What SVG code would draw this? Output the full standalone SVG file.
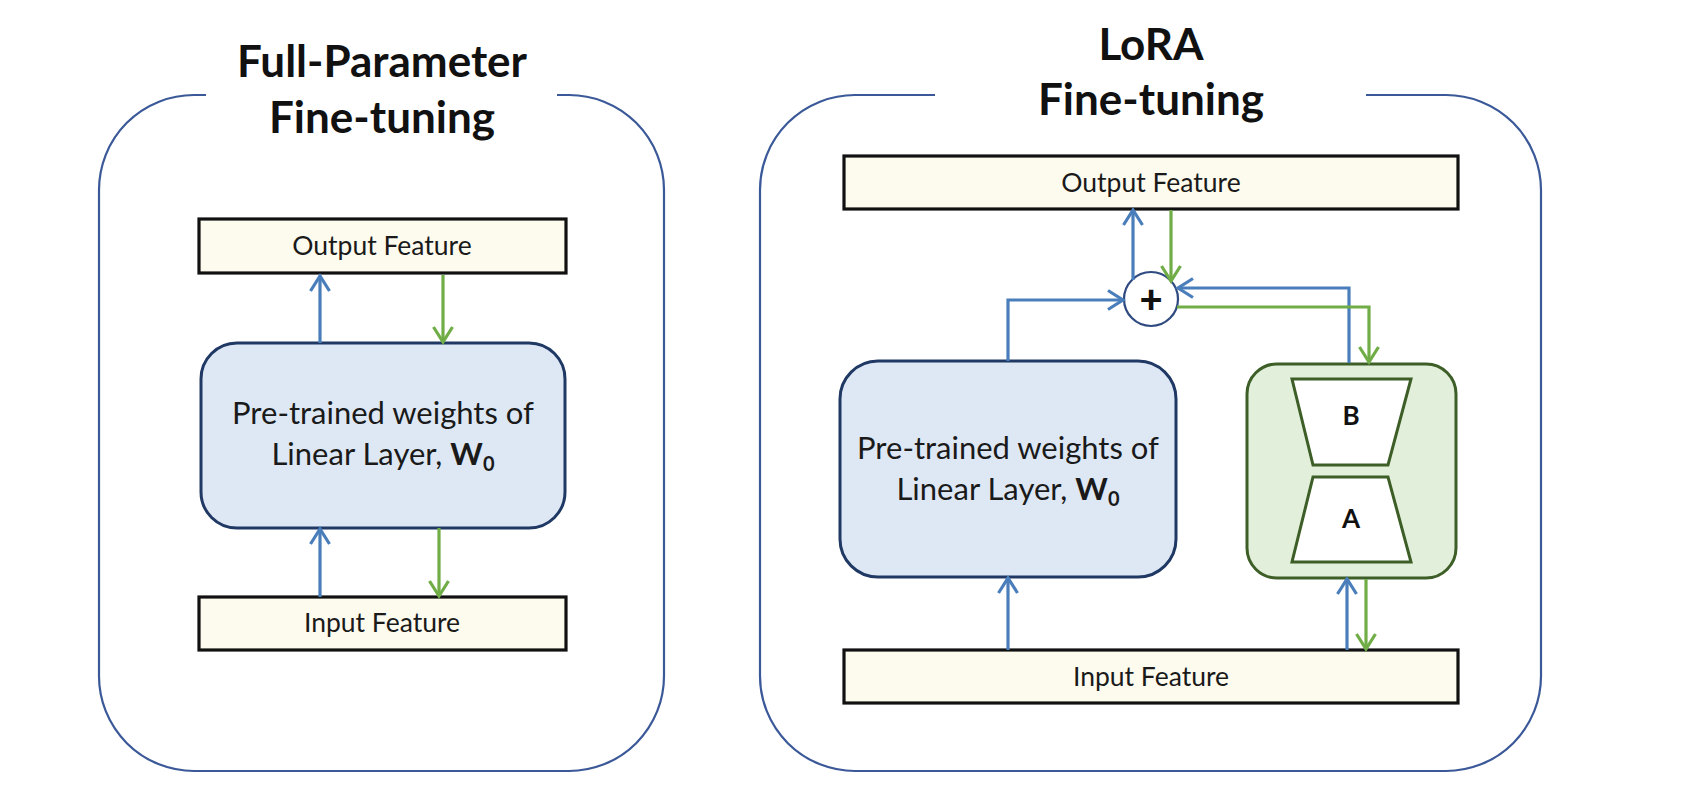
<svg xmlns="http://www.w3.org/2000/svg" width="1704" height="808" viewBox="0 0 1704 808">
  <style>
    .panel { fill: none; stroke: #3b5998; stroke-width: 2.2; }
    .title { font-family: Lato, "Liberation Sans", sans-serif; font-weight: bold; font-size: 44px; fill: #111; text-anchor: middle; }
    .feat { fill: #fdfbee; stroke: #111; stroke-width: 3.2; }
    .featText { font-family: Lato, "Liberation Sans", sans-serif; font-size: 26.5px; fill: #1a1a1a; text-anchor: middle; }
    .linear { fill: #dee8f5; stroke: #1f3864; stroke-width: 3; }
    .body { font-family: Lato, "Liberation Sans", sans-serif; font-size: 31px; fill: #1a1a1a; text-anchor: middle; }
    .lora { fill: #e2efda; stroke: #3d5e27; stroke-width: 3; }
    .trap { fill: #fff; stroke: #3d5e27; stroke-width: 3; stroke-linejoin: miter; }
    .bold { font-family: Lato, "Liberation Sans", sans-serif; font-weight: bold; font-size: 26px; fill: #111; text-anchor: middle; }
    .plus { font-family: Lato, "Liberation Sans", sans-serif; font-weight: 900; font-size: 40px; fill: #111; text-anchor: middle; }
    .plusC { fill: #fff; stroke: #2f4a80; stroke-width: 2.2; }
    .blue { fill: none; stroke: #4a7ebb; stroke-width: 3.2; marker-end: url(#ab); }
    .green { fill: none; stroke: #70ad47; stroke-width: 3.2; marker-end: url(#ag); }
  </style>
  <defs>
    <marker id="ab" markerUnits="userSpaceOnUse" markerWidth="34" markerHeight="34" viewBox="-22 -17 34 34" refX="0" refY="0" orient="auto">
      <path d="M-15,-9.5 L0,0 L-15,9.5" fill="none" stroke="#4a7ebb" stroke-width="3.2"/>
    </marker>
    <marker id="ag" markerUnits="userSpaceOnUse" markerWidth="34" markerHeight="34" viewBox="-22 -17 34 34" refX="0" refY="0" orient="auto">
      <path d="M-15,-9.5 L0,0 L-15,9.5" fill="none" stroke="#70ad47" stroke-width="3.2"/>
    </marker>
  </defs>
  <rect width="1704" height="808" fill="#fff"/>

  <g id="panel-full">
    <path class="panel" d="M557,95 H569 A95,95 0 0 1 664,190 V676 A95,95 0 0 1 569,771 H194 A95,95 0 0 1 99,676 V190 A95,95 0 0 1 194,95 H206"/>
    <text class="title" x="382" y="77">Full-Parameter</text>
    <text class="title" x="382" y="133">Fine-tuning</text>
  </g>

  <g id="panel-lora">
    <path class="panel" d="M1366,95 H1446 A95,95 0 0 1 1541,190 V676 A95,95 0 0 1 1446,771 H855 A95,95 0 0 1 760,676 V190 A95,95 0 0 1 855,95 H935"/>
    <text class="title" x="1151" y="60">LoRA</text>
    <text class="title" x="1151" y="115">Fine-tuning</text>
  </g>

  <g id="full-output">
    <rect class="feat" x="199" y="219" width="367" height="54"/>
    <text class="featText" x="382" y="255">Output Feature</text>
  </g>
  <g id="full-linear">
    <rect class="linear" x="201" y="343" width="364" height="185" rx="36" ry="36"/>
    <text class="body" x="383" y="424">Pre-trained weights of</text>
    <text class="body" x="383" y="465">Linear Layer, <tspan font-weight="bold">W</tspan><tspan font-weight="bold" font-size="20" dy="6">0</tspan></text>
  </g>
  <g id="full-input">
    <rect class="feat" x="199" y="597" width="367" height="53"/>
    <text class="featText" x="382" y="632">Input Feature</text>
  </g>

  <g id="lora-output">
    <rect class="feat" x="844" y="156" width="614" height="53"/>
    <text class="featText" x="1151" y="192">Output Feature</text>
  </g>
  <g id="lora-plus">
    <circle class="plusC" cx="1151" cy="299" r="27"/>
    <text class="plus" x="1151" y="313">+</text>
  </g>
  <g id="lora-linear">
    <rect class="linear" x="840" y="361" width="336" height="216" rx="38" ry="38"/>
    <text class="body" x="1008" y="459">Pre-trained weights of</text>
    <text class="body" x="1008" y="500">Linear Layer, <tspan font-weight="bold">W</tspan><tspan font-weight="bold" font-size="20" dy="6">0</tspan></text>
  </g>
  <g id="lora-adapter">
    <rect class="lora" x="1247" y="364" width="209" height="214" rx="30" ry="30"/>
    <polygon class="trap" points="1292,379 1411,379 1388,465 1313,465"/>
    <text class="bold" x="1351" y="425">B</text>
    <polygon class="trap" points="1313,477 1388,477 1411,562 1292,562"/>
    <text class="bold" x="1351" y="528">A</text>
  </g>
  <g id="lora-input">
    <rect class="feat" x="844" y="650" width="614" height="53"/>
    <text class="featText" x="1151" y="686">Input Feature</text>
  </g>

  <g id="connectors">
    <path class="blue" d="M320,343 V276"/>
    <path class="green" d="M443,275 V342"/>
    <path class="blue" d="M320,597 V529"/>
    <path class="green" d="M439,528 V596"/>

    <path class="blue" d="M1133,280 V210"/>
    <path class="green" d="M1171,210 V281"/>
    <path class="blue" d="M1008,361 V300 H1123"/>
    <path class="blue" d="M1349,363 V288 H1178"/>
    <path class="green" d="M1177,307 H1369 V362"/>
    <path class="blue" d="M1008,650 V578"/>
    <path class="blue" d="M1347,650 V579"/>
    <path class="green" d="M1366,579 V649"/>
  </g>
</svg>
